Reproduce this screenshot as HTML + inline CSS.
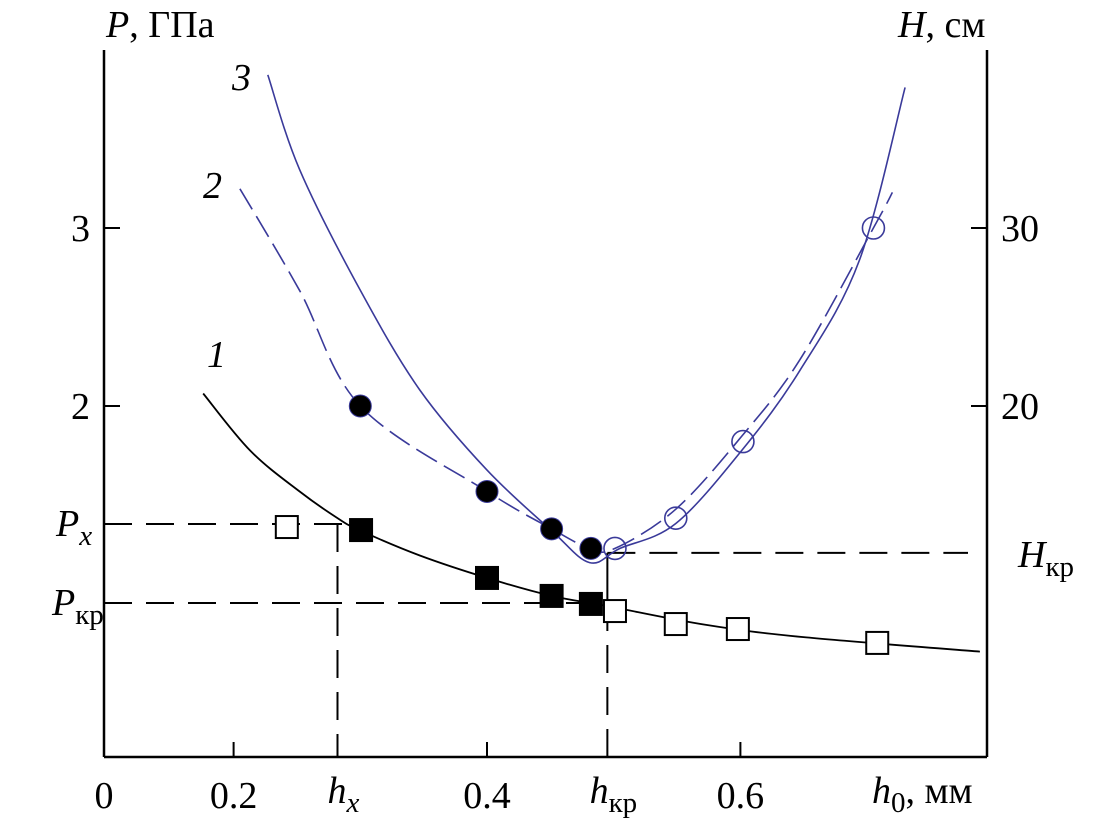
<!DOCTYPE html>
<html><head><meta charset="utf-8"><style>
body{margin:0;background:#fff}
svg{display:block;font-family:"Liberation Serif","Noto Serif CJK SC",serif}
</style></head><body>
<svg id="c" width="1117" height="827" viewBox="0 0 1117 827">
<g id="axes"></g>
<g id="marks"></g>
</svg>
<script>
const xTicks=[0.2,0.4,0.6];
const pTicks=[2,3];
const hTicks=[20,30];
const curve1X=[0.176,0.213,0.252,0.282,0.3,0.347,0.4,0.451,0.495,0.573,0.652,0.789];
const curve1P=[2.07,1.75,1.52,1.37,1.30,1.16,1.034,0.933,0.876,0.77,0.70,0.62];
const filledSqX=[0.3006,0.4,0.451,0.482];
const filledSqP=[1.303,1.034,0.933,0.888];
const openSqX=[0.242,0.501,0.549,0.598,0.708];
const openSqP=[1.32,0.848,0.775,0.747,0.669];
const curve2X=[0.205,0.252,0.3,0.4,0.451,0.481,0.501,0.549,0.601,0.647,0.705,0.72];
const curve2H=[32.2,26.5,20,15.2,13.1,12.0,12.0,14.2,18.3,22.6,30,32];
const curve3X=[0.227,0.252,0.3,0.347,0.4,0.451,0.481,0.505,0.549,0.601,0.647,0.694,0.73];
const curve3H=[38.6,33.3,26.5,20.9,16.4,13.0,11.2,12.0,13.4,17.5,22.0,28.2,37.9];
const filledCircX=[0.3,0.4,0.451,0.482];
const filledCircH=[20,15.2,13.1,12.0];
const openCircX=[0.501,0.549,0.602,0.705];
const openCircH=[12.0,13.7,18.0,30];
const hx=0.282,hkr=0.495,Px=1.337,Pkr=0.893,Hkr=11.75;

const X=v=>487+(v-0.4)*1267;
const YP=p=>228+(3-p)*178;
const YH=h=>228+(30-h)*17.8;
const NS="http://www.w3.org/2000/svg";
const ax=document.getElementById('axes'),mk=document.getElementById('marks');
function el(t,a,p,txt){const e=document.createElementNS(NS,t);for(const k in a)e.setAttribute(k,a[k]);if(txt!==undefined)e.textContent=txt;p.appendChild(e);return e;}
const L=104,R=987,B=757,T=50;

let e;
e=el('line',{x1:L,y1:T,x2:L,y2:B,stroke:'#000','stroke-width':2.5},ax);


e=el('line',{x1:R,y1:T,x2:R,y2:B,stroke:'#000','stroke-width':2.5},ax);


e=el('line',{x1:L,y1:B,x2:R,y2:B,stroke:'#000','stroke-width':2.5},ax);



const fs={'font-size':38,fill:'#000'};
xTicks.forEach(v=>{
 e=el('line',{x1:X(v),y1:B,x2:X(v),y2:B-15,stroke:'#000','stroke-width':2},ax);
 
 
 e=el('text',Object.assign({x:X(v),y:808,'text-anchor':'middle'},fs),ax,String(v));
 
 
});
pTicks.forEach(v=>{
 e=el('line',{x1:L,y1:YP(v),x2:L+16,y2:YP(v),stroke:'#000','stroke-width':2},ax);
 
 
 e=el('text',Object.assign({x:90,y:YP(v)+13,'text-anchor':'end'},fs),ax,String(v));
 
 
});
hTicks.forEach(v=>{
 e=el('line',{x1:R,y1:YH(v),x2:R-16,y2:YH(v),stroke:'#000','stroke-width':2},ax);
 
 
 e=el('text',Object.assign({x:1001,y:YH(v)+13},fs),ax,String(v));
 
 
});
function lab(x,y,main,sub,name,anchor,subItalic){
 const t=el('text',Object.assign({x:x,y:y,'text-anchor':anchor||'middle'},fs),ax);
 el('tspan',{'font-style':'italic'},t,main);
 el('tspan',{'font-size':29,dy:9,'font-style':subItalic?'italic':'normal'},t,sub);
 
 
 return t;
}
lab(X(hx)+6,803,'h','x','hx-label','middle',true);
lab(X(hkr)+6,803,'h','кр','hkr-label');
e=el('text',Object.assign({x:872,y:803},fs),ax);
el('tspan',{'font-style':'italic'},e,'h');
el('tspan',{'font-size':29,dy:9},e,'0');
el('tspan',{dy:-9},e,', мм');


e=el('text',Object.assign({x:L,y:808,'text-anchor':'middle'},fs),ax,'0');


e=el('text',Object.assign({x:106,y:37},fs),ax);
el('tspan',{'font-style':'italic'},e,'P');
el('tspan',{},e,', ГПа');


e=el('text',Object.assign({x:898,y:37},fs),ax);
el('tspan',{'font-style':'italic'},e,'H');
el('tspan',{},e,', см');


lab(56,YP(Px)+12,'P','x','px-label','start',true);
lab(52,YP(Pkr)+12,'P','кр','pkr-label','start');
lab(1018,YH(Hkr)+14,'H','кр','hkr-h-label','start');
[['3',232,90],['2',203,198],['1',207,367]].forEach(d=>{
 e=el('text',Object.assign({x:d[1],y:d[2],'font-style':'italic'},fs),ax,d[0]);
 
 
});
const dash={stroke:'#000','stroke-width':2,'stroke-dasharray':'28,14',fill:'none'};
e=el('line',Object.assign({x1:L,y1:YP(Px),x2:X(0.3),y2:YP(Px)},dash),mk);


e=el('line',Object.assign({x1:X(hx),y1:YP(Px),x2:X(hx),y2:B},dash),mk);


e=el('line',Object.assign({x1:L,y1:YP(Pkr),x2:X(0.51),y2:YP(Pkr)},dash),mk);


e=el('line',Object.assign({x1:X(hkr),y1:YP(Pkr),x2:X(hkr),y2:B},dash),mk);


e=el('line',{x1:X(hkr),y1:YH(Hkr),x2:X(hkr),y2:YP(Pkr),stroke:'#000','stroke-width':2},mk);


e=el('line',Object.assign({x1:X(hkr),y1:YH(Hkr),x2:968,y2:YH(Hkr)},dash),mk);



function path(xs,ys,yf){
 const p=xs.map((v,i)=>[X(v),yf(ys[i])]);
 let d='M'+p[0][0].toFixed(1)+','+p[0][1].toFixed(1);
 for(let i=0;i<p.length-1;i++){
  const p0=p[i-1]||p[i],p1=p[i],p2=p[i+1],p3=p[i+2]||p2;
  const c1=[p1[0]+(p2[0]-p0[0])/6,p1[1]+(p2[1]-p0[1])/6];
  const c2=[p2[0]-(p3[0]-p1[0])/6,p2[1]-(p3[1]-p1[1])/6];
  d+=' C'+c1.map(n=>n.toFixed(1))+' '+c2.map(n=>n.toFixed(1))+' '+p2.map(n=>n.toFixed(1));
 }
 return d;
}
e=el('path',{d:path(curve1X,curve1P,YP),stroke:'#000','stroke-width':1.8,fill:'none'},mk);


e=el('path',{d:path(curve3X,curve3H,YH),stroke:'#3a3a9a','stroke-width':1.6,fill:'none'},mk);


e=el('path',{d:path(curve2X,curve2H,YH),stroke:'#3a3a9a','stroke-width':1.6,fill:'none','stroke-dasharray':'24,8'},mk);



filledSqX.forEach((v,i)=>{
 e=el('rect',{x:X(v)-12,y:YP(filledSqP[i])-12,width:24,height:24,fill:'#000'},mk);
 
 
});
openSqX.forEach((v,i)=>{
 e=el('rect',{x:X(v)-11,y:YP(openSqP[i])-11,width:22,height:22,fill:'#fff',stroke:'#000','stroke-width':2},mk);
 
 
});
filledCircX.forEach((v,i)=>{
 e=el('circle',{cx:X(v),cy:YH(filledCircH[i]),r:11,fill:'#000',stroke:'#3a3a9a','stroke-width':1},mk);
 
 
});
openCircX.forEach((v,i)=>{
 e=el('circle',{cx:X(v),cy:YH(openCircH[i]),r:11,fill:'none',stroke:'#3a3a9a','stroke-width':1.6},mk);
 
 
});
</script>
</body></html>
